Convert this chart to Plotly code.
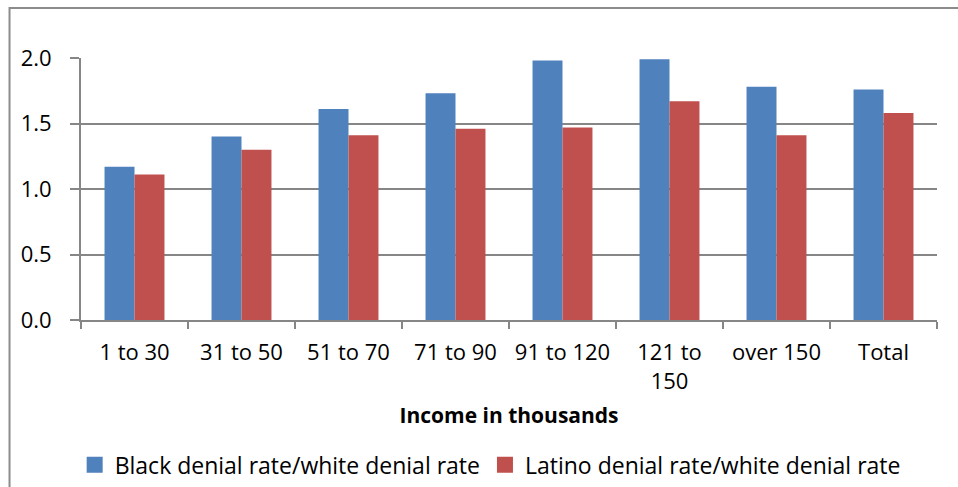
import plotly.graph_objects as go

# Income brackets (thousands of dollars)
categories = ["1 to 30", "31 to 50", "51 to 70", "71 to 90", "91 to 120",
              "121 to<br>150", "over 150", "Total"]

# Ratio of minority denial rate to white denial rate
black_ratio = [1.17, 1.40, 1.61, 1.73, 1.98, 1.99, 1.78, 1.76]
latino_ratio = [1.11, 1.30, 1.41, 1.46, 1.47, 1.67, 1.41, 1.58]

y_ticks = [0.0, 0.5, 1.0, 1.5, 2.0]

series_names = ["Black denial rate/white denial rate",
                "Latino denial rate/white denial rate"]
colors = ["#4F81BD", "#C0504D"]
grid_color = "#868686"
font_family = "Open Sans, Liberation Sans, sans-serif"

fig = go.Figure()
for name, vals, col in zip(series_names, [black_ratio, latino_ratio], colors):
    fig.add_trace(go.Bar(x=categories, y=vals, name=name, marker_color=col,
                         marker_line_width=0, showlegend=False))
    # legend entry with a larger square swatch
    fig.add_trace(go.Scatter(x=[None], y=[None], mode="markers", name=name,
                             marker=dict(symbol="square", size=16, color=col)))

fig.update_layout(
    width=958, height=487,
    margin=dict(l=81, r=21, t=58, b=167, autoexpand=False),
    paper_bgcolor="white", plot_bgcolor="white",
    font=dict(family=font_family, size=22, color="#000000"),
    barmode="group", bargap=0.44, bargroupgap=0,
    showlegend=True,
    legend=dict(orientation="h", x=0.478, xanchor="center", y=-0.553,
                yanchor="middle", font=dict(size=23), itemwidth=30,
                tracegroupgap=0, bgcolor="rgba(0,0,0,0)"),
    xaxis=dict(
        type="category", tickson="boundaries", ticks="outside", ticklen=7,
        tickcolor=grid_color, tickwidth=2, showline=True, linecolor=grid_color,
        linewidth=2, showgrid=False, tickfont=dict(size=22),
        ticklabelstandoff=12, automargin=False,
        title=dict(text="<b>Income in thousands</b>", font=dict(size=21),
                   standoff=14),
    ),
    yaxis=dict(
        range=[0, 2.0], tickvals=y_ticks, ticktext=[f"{v:.1f}" for v in y_ticks],
        ticks="outside", ticklen=9, tickcolor=grid_color, tickwidth=2,
        showline=True, linecolor=grid_color, linewidth=2,
        showgrid=True, gridcolor=grid_color, gridwidth=2, zeroline=False,
        tickfont=dict(size=22), ticklabelstandoff=14, automargin=False,
    ),
    shapes=[dict(type="rect", xref="paper", yref="paper",
                 x0=-0.0835, x1=1.03, y0=-0.66, y1=1.191,
                 line=dict(color="#8C8C8C", width=2), fillcolor="rgba(0,0,0,0)",
                 layer="below")],
)

fig.write_html("out.html")
